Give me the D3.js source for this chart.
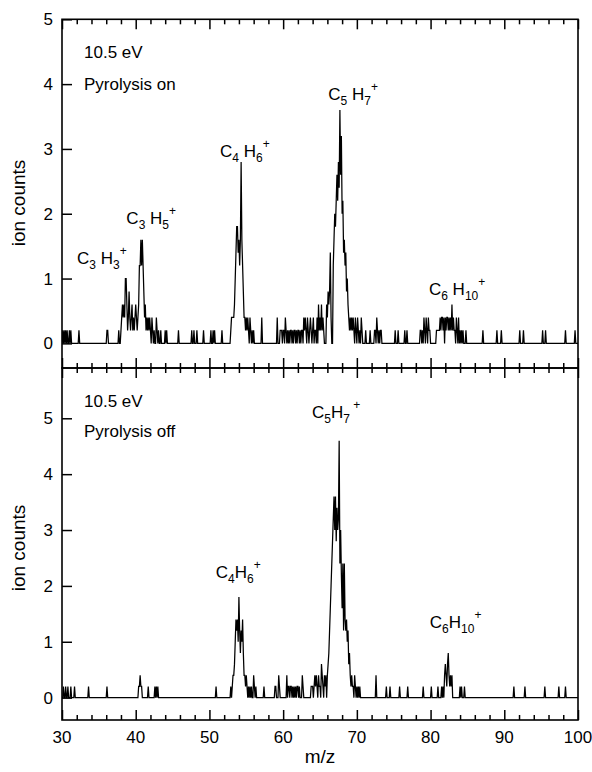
<!DOCTYPE html>
<html lang="en">
<head>
  <meta charset="UTF-8">
  <title>Photoionization mass spectra, pyrolysis on / off</title>
  <script src="https://d3js.org/d3.v7.min.js"></script>
  <style>
    body { margin: 0; background: #fff; }
    svg { display: block; font-family: "Liberation Sans", Arial, sans-serif; }
  </style>
</head>
<body>
  <svg id="chart"></svg>

  <script>
    // x axis
    const xMajor = [30, 40, 50, 60, 70, 80, 90, 100];
    const xMinor = [32, 34, 36, 38, 42, 44, 46, 48, 52, 54, 56, 58, 62, 64, 66, 68,
                    72, 74, 76, 78, 82, 84, 86, 88, 92, 94, 96, 98];
    const yTicks = [0, 1, 2, 3, 4, 5];

    // nonzero samples [m/z, ion counts]; everything else is 0
    const topSpectrum = [
      [30.1,0.2],[30.3,0.2],[30.5,0.2],[30.7,0.2],[31.0,0.2],[31.2,0.2],[32.3,0.2],
      [36.1,0.2],[36.2,0.2],[37.7,0.2],
      [38.0,0.2],[38.1,0.4],[38.2,0.6],[38.3,0.4],[38.4,0.6],[38.5,0.4],[38.6,1.0],[38.7,1.0],
      [38.8,0.6],[38.9,0.2],[39.0,0.4],[39.1,0.8],[39.2,0.4],[39.3,0.2],[39.4,0.4],[39.5,0.6],
      [39.6,0.2],[39.7,0.4],[39.8,0.2],[39.9,0.4],[40.0,0.6],[40.1,0.4],[40.2,0.2],[40.3,0.4],
      [40.4,0.6],[40.5,1.2],[40.6,1.2],[40.7,1.6],[40.8,1.2],[40.9,1.6],[41.0,1.2],[41.1,0.8],
      [41.2,0.4],[41.3,0.6],[41.4,0.2],[41.5,0.4],[41.6,0.2],[41.7,0.4],[41.8,0.2],[41.9,0.4],
      [42.0,0.2],[42.2,0.4],[42.3,0.2],[42.5,0.2],[42.8,0.4],[42.9,0.2],[43.1,0.2],[43.4,0.2],
      [44.0,0.2],[44.2,0.2],[45.8,0.2],[47.6,0.2],[47.9,0.2],[48.3,0.2],[49.2,0.2],
      [50.2,0.2],[50.5,0.2],[50.7,0.2],[51.7,0.2],
      [52.9,0.2],[53.0,0.4],[53.1,0.4],[53.2,0.4],[53.3,0.4],[53.4,0.6],[53.5,1.0],[53.6,1.4],
      [53.7,1.8],[53.8,1.8],[53.9,1.4],[54.0,1.6],[54.1,1.2],[54.2,1.6],[54.3,2.8],[54.4,1.6],
      [54.5,1.2],[54.6,0.8],[54.7,0.4],[54.8,0.4],[54.9,0.2],[55.0,0.4],[55.1,0.2],[55.2,0.4],
      [55.3,0.2],[55.5,0.4],[55.6,0.2],[55.8,0.2],[56.0,0.2],[57.1,0.4],
      [59.2,0.4],[59.6,0.2],[59.7,0.2],[59.8,0.2],[60.0,0.2],[60.1,0.2],[60.3,0.4],[60.4,0.2],
      [60.6,0.2],[60.8,0.2],[61.0,0.2],[61.1,0.2],[61.3,0.2],[61.5,0.2],[61.6,0.2],[61.8,0.2],
      [62.0,0.2],[62.1,0.2],[62.3,0.2],[62.5,0.2],[62.6,0.2],[62.8,0.4],[62.9,0.2],[63.0,0.4],
      [63.1,0.2],[63.3,0.4],[63.4,0.2],[63.6,0.2],[63.7,0.4],[63.8,0.2],[64.0,0.2],[64.1,0.4],
      [64.3,0.2],[64.4,0.2],[64.6,0.4],[64.8,0.6],[64.9,0.2],[65.0,0.4],[65.1,0.2],[65.2,0.6],
      [65.3,0.2],[65.4,0.4],[65.5,0.2],
      [65.9,0.6],[66.0,0.4],[66.1,0.8],[66.2,0.6],[66.3,0.8],[66.4,1.4],[66.5,0.4],
      [66.8,1.2],[66.9,1.6],[67.0,2.0],[67.1,1.8],[67.2,2.2],[67.3,2.6],[67.4,2.2],[67.5,2.8],
      [67.6,2.4],[67.7,3.6],[67.8,2.6],[67.9,3.2],[68.0,2.0],[68.1,2.2],[68.2,1.4],[68.3,1.6],
      [68.4,1.2],[68.5,1.4],[68.6,0.8],[68.7,1.0],[68.8,0.6],[68.9,0.4],[69.0,0.2],[69.1,0.4],
      [69.2,0.2],[69.3,0.4],[69.4,0.2],[69.5,0.4],[69.6,0.2],[69.8,0.4],[69.9,0.2],[70.1,0.4],
      [70.2,0.2],[70.4,0.2],[70.6,0.4],[70.7,0.2],[71.2,0.2],[71.8,0.2],
      [72.4,0.2],[72.5,0.2],[72.7,0.4],[72.8,0.2],[73.0,0.2],[73.2,0.2],[73.3,0.2],
      [75.2,0.2],[75.6,0.2],[76.5,0.2],[76.8,0.2],
      [78.6,0.2],[78.7,0.2],[78.9,0.2],[79.1,0.4],[79.2,0.2],[79.4,0.4],[79.5,0.2],[79.7,0.4],
      [79.8,0.2],[79.9,0.2],
      [80.8,0.2],[80.9,0.2],[81.0,0.2],[81.1,0.2],[81.2,0.2],[81.3,0.4],[81.4,0.2],[81.5,0.4],
      [81.6,0.4],[81.7,0.2],[81.8,0.4],[82.0,0.4],[82.1,0.2],[82.2,0.4],[82.3,0.4],[82.4,0.2],
      [82.5,0.4],[82.6,0.2],[82.7,0.4],[82.8,0.2],[82.9,0.6],[83.0,0.2],[83.1,0.4],[83.2,0.2],
      [83.3,0.2],[83.5,0.4],[83.6,0.2],[83.8,0.4],[84.0,0.2],[84.2,0.2],[84.4,0.2],[84.8,0.2],
      [87.1,0.2],[89.0,0.2],[89.6,0.2],[92.1,0.2],[92.6,0.2],[95.2,0.2],[95.6,0.2],
      [98.3,0.2],[99.6,0.2]
    ];

    const bottomSpectrum = [
      [30.2,0.2],[30.5,0.2],[30.8,0.2],[31.2,0.2],[31.7,0.2],[33.6,0.2],[36.1,0.2],
      [40.4,0.2],[40.5,0.2],[40.6,0.4],[40.7,0.2],[40.8,0.2],[41.7,0.2],[42.6,0.2],[42.8,0.2],
      [43.0,0.2],[50.9,0.2],
      [52.9,0.2],[53.1,0.2],[53.2,0.4],[53.3,0.4],[53.4,0.6],[53.5,1.0],[53.6,1.4],[53.7,1.2],
      [53.8,1.4],[53.9,1.0],[54.0,1.8],[54.1,1.2],[54.2,0.8],[54.3,1.2],[54.4,1.0],[54.5,1.4],
      [54.6,0.8],[54.7,0.4],[54.8,0.4],[54.9,0.2],[55.0,0.4],[55.1,0.2],[55.3,0.2],[55.5,0.2],
      [55.7,0.2],[56.0,0.4],[56.1,0.2],[56.3,0.2],[57.4,0.2],
      [58.9,0.2],[59.0,0.2],[59.4,0.4],[59.5,0.2],[60.5,0.4],[60.7,0.2],[60.8,0.2],[61.0,0.2],
      [61.1,0.2],[61.3,0.2],[61.5,0.2],[61.7,0.2],[61.9,0.2],[62.0,0.2],[62.2,0.2],[62.6,0.4],
      [62.7,0.2],
      [63.8,0.2],[63.9,0.2],[64.0,0.2],[64.2,0.2],[64.3,0.4],[64.4,0.2],[64.5,0.4],[64.6,0.2],
      [64.8,0.4],[64.9,0.2],[65.0,0.2],[65.2,0.6],[65.3,0.4],[65.4,0.2],[65.6,0.4],[65.7,0.2],
      [65.8,0.4],[66.0,0.4],[66.1,0.6],[66.2,0.8],[66.3,1.2],[66.4,1.6],[66.5,2.0],[66.6,2.4],
      [66.7,2.8],[66.8,3.2],[66.9,3.6],[67.0,3.0],[67.1,3.6],[67.2,2.8],[67.3,3.4],[67.4,3.0],
      [67.5,3.2],[67.6,4.6],[67.7,2.4],[67.8,3.0],[67.9,2.2],[68.0,1.6],[68.1,2.4],[68.2,1.2],
      [68.3,2.4],[68.4,1.4],[68.5,1.2],[68.6,1.4],[68.7,1.0],[68.8,1.2],[68.9,0.6],[69.0,0.8],
      [69.1,0.4],[69.2,0.2],[69.3,0.4],[69.4,0.2],[69.5,0.2],[69.7,0.4],[69.8,0.2],[70.0,0.2],
      [70.2,0.2],[70.4,0.2],
      [72.6,0.4],[74.0,0.2],[74.5,0.2],[75.8,0.2],[76.9,0.2],[79.0,0.2],[80.1,0.2],[81.0,0.2],
      [81.5,0.2],[81.7,0.2],[81.9,0.4],[82.0,0.6],[82.1,0.4],[82.2,0.2],[82.3,0.6],[82.4,0.8],
      [82.5,0.4],[82.6,0.2],[82.7,0.4],[82.8,0.2],[82.9,0.4],
      [84.0,0.2],[84.2,0.2],[84.6,0.2],[91.3,0.2],[92.8,0.2],[95.5,0.2],[97.4,0.2],[98.3,0.2]
    ];

    // species labels: [m/z, counts] of the label baseline, pieces of the formula
    const topLabels = [
      { mz: 35.4, v: 1.22, parts: [["C"], ["3", "sub"], [" H"], ["3", "sub"], ["+", "sup"]] },
      { mz: 42.1, v: 1.84, parts: [["C"], ["3", "sub"], [" H"], ["5", "sub"], ["+", "sup"]] },
      { mz: 54.8, v: 2.87, parts: [["C"], ["4", "sub"], [" H"], ["6", "sub"], ["+", "sup"]] },
      { mz: 69.5, v: 3.75, parts: [["C"], ["5", "sub"], [" H"], ["7", "sub"], ["+", "sup"]] },
      { mz: 83.6, v: 0.75, parts: [["C"], ["6", "sub"], [" H"], ["10", "sub"], ["+", "sup"]] }
    ];
    const bottomLabels = [
      { mz: 53.9, v: 2.14, parts: [["C"], ["4", "sub"], ["H"], ["6", "sub"], ["+", "sup"]] },
      { mz: 67.2, v: 5.0,  parts: [["C"], ["5", "sub"], ["H"], ["7", "sub"], [" +", "sup"]] },
      { mz: 83.4, v: 1.25, parts: [["C"], ["6", "sub"], ["H"], ["10", "sub"], ["+", "sup"]] }
    ];

    const W = 592, H = 772;
    const left = 62, right = 578;
    const svg = d3.select("#chart").attr("width", W).attr("height", H);

    const x = d3.scaleLinear().domain([30, 100]).range([left, right]);

    const panels = [
      { top: 19.3, bottom: 368, domain: [-0.38, 5], data: topSpectrum, labels: topLabels,
        lines: ["10.5 eV", "Pyrolysis on"], textY: [58, 90], ylabelY: 203, xLabels: false },
      { top: 368, bottom: 720, domain: [-0.4, 5.9], data: bottomSpectrum, labels: bottomLabels,
        lines: ["10.5 eV", "Pyrolysis off"], textY: [407, 437], ylabelY: 548, xLabels: true }
    ];

    // spectrum on a 0.1 m/z grid, zero where nothing was counted
    function trace(samples) {
      const lookup = new Map(samples.map(d => [Math.round(d[0] * 10), d[1]]));
      const pts = [];
      for (let k = 300; k <= 1000; k++) pts.push([k / 10, lookup.get(k) || 0]);
      return pts;
    }

    function formula(g, px, py, parts) {
      const t = g.append("text")
        .attr("x", px).attr("y", py)
        .attr("text-anchor", "middle")
        .style("font-size", "17px");
      let off = 0;
      parts.forEach(([s, kind]) => {
        const target = kind === "sub" ? 5 : kind === "sup" ? -9 : 0;
        t.append("tspan")
          .attr("dy", target - off)
          .style("font-size", kind ? "12px" : "17px")
          .text(s);
        off = target;
      });
    }

    panels.forEach((p, i) => {
      const y = d3.scaleLinear().domain(p.domain).range([p.bottom, p.top]);
      const g = svg.append("g");

      g.append("clipPath").attr("id", "clip" + i)
        .append("rect")
        .attr("x", left).attr("y", p.top)
        .attr("width", right - left).attr("height", p.bottom - p.top);

      // spectrum
      const line = d3.line().x(d => x(d[0])).y(d => y(d[1]));
      g.append("path")
        .datum(trace(p.data))
        .attr("clip-path", `url(#clip${i})`)
        .attr("fill", "none")
        .attr("stroke", "#000")
        .attr("stroke-width", 1.25)
        .attr("d", line);

      // y axis: inward ticks
      const yAxis = g.append("g")
        .attr("transform", `translate(${left},0)`)
        .call(d3.axisRight(y).tickValues(yTicks).tickSize(10).tickFormat(""));
      yAxis.select(".domain").remove();
      yAxis.selectAll("line").attr("stroke-width", 1.5);

      g.selectAll(".ylab")
        .data(yTicks)
        .enter().append("text")
        .attr("x", left - 9)
        .attr("y", d => y(d))
        .attr("dy", "0.36em")
        .attr("text-anchor", "end")
        .style("font-size", "17px")
        .text(d => d);

      // x ticks, pointing into the panel on both edges
      [[p.top, d3.axisBottom], [p.bottom, d3.axisTop]].forEach(([yy, axisFn]) => {
        [[xMajor, 10], [xMinor, 5]].forEach(([vals, size]) => {
          const a = g.append("g")
            .attr("transform", `translate(0,${yy})`)
            .call(axisFn(x).tickValues(vals).tickSize(size).tickFormat(""));
          a.select(".domain").remove();
          a.selectAll("line").attr("stroke-width", 1.5);
        });
      });

      // frame
      g.append("rect")
        .attr("x", left).attr("y", p.top)
        .attr("width", right - left).attr("height", p.bottom - p.top)
        .attr("fill", "none")
        .attr("stroke", "#000")
        .attr("stroke-width", 1.6);

      // condition text
      p.lines.forEach((s, j) => {
        g.append("text")
          .attr("x", 84).attr("y", p.textY[j])
          .style("font-size", "17px")
          .text(s);
      });

      p.labels.forEach(l => formula(g, x(l.mz), y(l.v), l.parts));

      g.append("text")
        .attr("transform", `translate(25,${p.ylabelY}) rotate(-90)`)
        .attr("text-anchor", "middle")
        .style("font-size", "19px")
        .text("ion counts");

      if (p.xLabels) {
        g.selectAll(".xlab")
          .data(xMajor)
          .enter().append("text")
          .attr("x", d => x(d))
          .attr("y", p.bottom + 23)
          .attr("text-anchor", "middle")
          .style("font-size", "17px")
          .text(d => d);
      }
    });

    svg.append("text")
      .attr("x", (left + right) / 2)
      .attr("y", 763)
      .attr("text-anchor", "middle")
      .style("font-size", "19px")
      .text("m/z");
  </script>
</body>
</html>
